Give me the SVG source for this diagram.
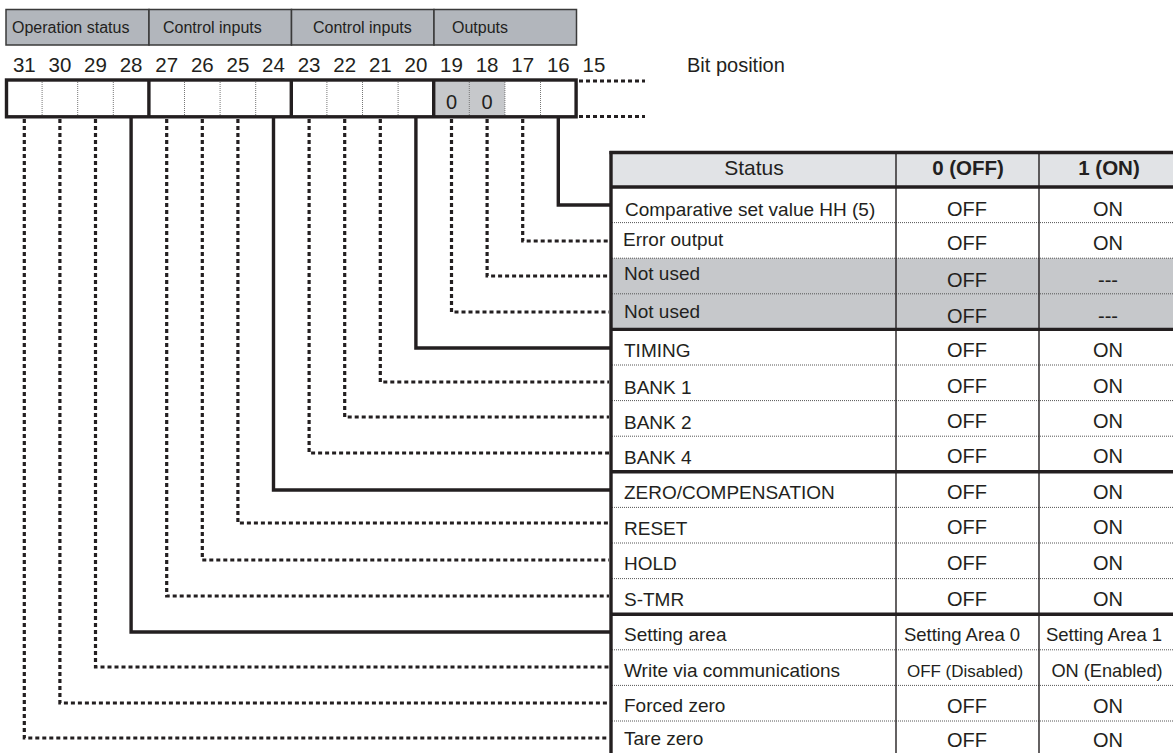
<svg xmlns="http://www.w3.org/2000/svg" width="1173" height="753" viewBox="0 0 1173 753">
<style>
  text { font-family: "Liberation Sans", Arial, sans-serif; fill: #231f20; }
  .hdr { font-size: 16px; }
  .num { font-size: 20.5px; text-anchor: middle; }
  .lbl { font-size: 19px; }
  .val { font-size: 20px; text-anchor: middle; }
  .th { font-size: 21px; text-anchor: middle; }
  .thb { font-size: 20.5px; font-weight: bold; text-anchor: middle; }
  .hbox { fill: #b2b6bc; stroke: #3a3a3a; stroke-width: 1.5; }
  .thick { stroke: #231f20; stroke-width: 3.4; fill: none; }
  .thin { stroke: #231f20; stroke-width: 1.4; fill: none; }
  .grid { stroke: #555; stroke-width: 1; stroke-dasharray: 1 1; fill: none; }
  .solid { stroke: #231f20; stroke-width: 3.4; fill: none; stroke-linejoin: miter; }
  .dot { stroke: #231f20; stroke-width: 3.2; fill: none; stroke-dasharray: 4 3; }
  .grey { fill: #c6c8cb; }
</style>

<g id="field-headers">
  <rect class="hbox" x="6" y="9.5" width="143" height="35.5"/>
  <rect class="hbox" x="149" y="9.5" width="142.5" height="35.5"/>
  <rect class="hbox" x="291.5" y="9.5" width="142.5" height="35.5"/>
  <rect class="hbox" x="434" y="9.5" width="142.5" height="35.5"/>
  <text class="hdr" x="12" y="33">Operation status</text>
  <text class="hdr" x="163" y="33">Control inputs</text>
  <text class="hdr" x="313" y="33">Control inputs</text>
  <text class="hdr" x="452" y="33">Outputs</text>
</g>

<g id="bit-numbers">
  <text class="num" x="24.3" y="72">31</text>
  <text class="num" x="59.9" y="72">30</text>
  <text class="num" x="95.5" y="72">29</text>
  <text class="num" x="131.1" y="72">28</text>
  <text class="num" x="166.7" y="72">27</text>
  <text class="num" x="202.3" y="72">26</text>
  <text class="num" x="237.9" y="72">25</text>
  <text class="num" x="273.5" y="72">24</text>
  <text class="num" x="309.1" y="72">23</text>
  <text class="num" x="344.7" y="72">22</text>
  <text class="num" x="380.3" y="72">21</text>
  <text class="num" x="415.9" y="72">20</text>
  <text class="num" x="451.5" y="72">19</text>
  <text class="num" x="487.1" y="72">18</text>
  <text class="num" x="522.7" y="72">17</text>
  <text class="num" x="558.3" y="72">16</text>
  <text class="num" x="593.9" y="72">15</text>
  <text x="687" y="72" style="font-size:20px">Bit position</text>
</g>

<g id="bit-field">
  <rect class="grey" x="433.7" y="80" width="71.2" height="37"/>
  <g class="grid" style="stroke:#777">
    <line x1="42.1" y1="82" x2="42.1" y2="115"/>
    <line x1="77.7" y1="82" x2="77.7" y2="115"/>
    <line x1="113.3" y1="82" x2="113.3" y2="115"/>
    <line x1="184.5" y1="82" x2="184.5" y2="115"/>
    <line x1="220.1" y1="82" x2="220.1" y2="115"/>
    <line x1="255.7" y1="82" x2="255.7" y2="115"/>
    <line x1="326.9" y1="82" x2="326.9" y2="115"/>
    <line x1="362.5" y1="82" x2="362.5" y2="115"/>
    <line x1="398.1" y1="82" x2="398.1" y2="115"/>
    <line x1="469.3" y1="82" x2="469.3" y2="115"/>
    <line x1="504.9" y1="82" x2="504.9" y2="115"/>
    <line x1="540.5" y1="82" x2="540.5" y2="115"/>
  </g>
  <rect class="thick" x="6.5" y="80" width="569.6" height="36.8"/>
  <line class="thick" x1="148.9" y1="80" x2="148.9" y2="117"/>
  <line class="thick" x1="291.3" y1="80" x2="291.3" y2="117"/>
  <line class="thick" x1="433.7" y1="80" x2="433.7" y2="117"/>
  <text class="num" x="451.5" y="108.5" style="font-size:20px">0</text>
  <text class="num" x="487.1" y="108.5" style="font-size:20px">0</text>
  <line class="dot" x1="579" y1="81" x2="645" y2="81"/>
  <line class="dot" x1="579" y1="116.5" x2="645" y2="116.5"/>
</g>

<g id="status-table">
  <rect x="611" y="152.5" width="562" height="34.5" fill="#e1e3e6"/>
  <rect class="grey" x="611" y="258.2" width="562" height="71.2"/>
  <g class="grid">
    <line x1="612" y1="222.6" x2="1173" y2="222.6"/>
    <line x1="612" y1="258.2" x2="1173" y2="258.2"/>
    <line x1="612" y1="293.8" x2="1173" y2="293.8"/>
    <line x1="612" y1="365" x2="1173" y2="365"/>
    <line x1="612" y1="400.6" x2="1173" y2="400.6"/>
    <line x1="612" y1="436.2" x2="1173" y2="436.2"/>
    <line x1="612" y1="507.4" x2="1173" y2="507.4"/>
    <line x1="612" y1="543" x2="1173" y2="543"/>
    <line x1="612" y1="578.6" x2="1173" y2="578.6"/>
    <line x1="612" y1="649.8" x2="1173" y2="649.8"/>
    <line x1="612" y1="685.4" x2="1173" y2="685.4"/>
    <line x1="612" y1="721" x2="1173" y2="721"/>
  </g>
  <line class="thin" x1="896" y1="152" x2="896" y2="753"/>
  <line class="thin" x1="1039" y1="152" x2="1039" y2="753"/>
  <line class="thick" x1="609.5" y1="152.5" x2="1173" y2="152.5"/>
  <line class="thick" x1="611" y1="187" x2="1173" y2="187"/>
  <line class="thick" x1="611" y1="329.4" x2="1173" y2="329.4"/>
  <line class="thick" x1="611" y1="471.8" x2="1173" y2="471.8"/>
  <line class="thick" x1="611" y1="614.2" x2="1173" y2="614.2"/>
  <line class="thick" x1="611" y1="151" x2="611" y2="753"/>

  <text class="th" x="754" y="174.5">Status</text>
  <text class="thb" x="968" y="175">0 (OFF)</text>
  <text class="thb" x="1109" y="175">1 (ON)</text>
</g>

<g id="row-16"><text class="lbl" x="625" y="216">Comparative set value HH (5)</text><text class="val" x="967" y="216">OFF</text><text class="val" x="1108" y="216">ON</text></g>
<g id="row-17"><text class="lbl" x="623" y="246">Error output</text><text class="val" x="967" y="250">OFF</text><text class="val" x="1108" y="250">ON</text></g>
<g id="row-18"><text class="lbl" x="624" y="280">Not used</text><text class="val" x="967" y="287">OFF</text><text class="val" x="1108" y="287">---</text></g>
<g id="row-19"><text class="lbl" x="624" y="318">Not used</text><text class="val" x="967" y="322.5">OFF</text><text class="val" x="1108" y="322.5">---</text></g>
<g id="row-20"><text class="lbl" x="624" y="357">TIMING</text><text class="val" x="967" y="357">OFF</text><text class="val" x="1108" y="357">ON</text></g>
<g id="row-21"><text class="lbl" x="624" y="393.5">BANK 1</text><text class="val" x="967" y="393">OFF</text><text class="val" x="1108" y="393">ON</text></g>
<g id="row-22"><text class="lbl" x="624" y="428.5">BANK 2</text><text class="val" x="967" y="428">OFF</text><text class="val" x="1108" y="428">ON</text></g>
<g id="row-23"><text class="lbl" x="624" y="463.5">BANK 4</text><text class="val" x="967" y="463">OFF</text><text class="val" x="1108" y="463">ON</text></g>
<g id="row-24"><text class="lbl" x="624" y="499">ZERO/COMPENSATION</text><text class="val" x="967" y="499">OFF</text><text class="val" x="1108" y="499">ON</text></g>
<g id="row-25"><text class="lbl" x="624" y="535">RESET</text><text class="val" x="967" y="534">OFF</text><text class="val" x="1108" y="534">ON</text></g>
<g id="row-26"><text class="lbl" x="624" y="570">HOLD</text><text class="val" x="967" y="570">OFF</text><text class="val" x="1108" y="570">ON</text></g>
<g id="row-27"><text class="lbl" x="624" y="606">S-TMR</text><text class="val" x="967" y="606">OFF</text><text class="val" x="1108" y="606">ON</text></g>
<g id="row-28"><text class="lbl" x="624" y="641">Setting area</text><text class="lbl" x="962" y="641" text-anchor="middle" style="font-size:18.5px">Setting Area 0</text><text class="lbl" x="1104" y="641" text-anchor="middle" style="font-size:18.5px">Setting Area 1</text></g>
<g id="row-29"><text class="lbl" x="624" y="677">Write via communications</text><text class="lbl" x="965" y="677" text-anchor="middle" style="font-size:17px">OFF (Disabled)</text><text class="lbl" x="1107" y="677" text-anchor="middle" style="font-size:18.2px">ON (Enabled)</text></g>
<g id="row-30"><text class="lbl" x="624" y="712">Forced zero</text><text class="val" x="967" y="713">OFF</text><text class="val" x="1108" y="713">ON</text></g>
<g id="row-31"><text class="lbl" x="624" y="745">Tare zero</text><text class="val" x="967" y="747">OFF</text><text class="val" x="1108" y="747">ON</text></g>

<g id="connectors">
  <path class="solid" d="M558.3 117 V205 H611"/>
  <path class="dot" d="M522.7 119 V241 H609"/>
  <path class="dot" d="M487.1 119 V276 H609"/>
  <path class="dot" d="M451.5 119 V312 H609"/>
  <path class="solid" d="M415.9 117 V348 H611"/>
  <path class="dot" d="M380.3 119 V382 H609"/>
  <path class="dot" d="M344.7 119 V417 H609"/>
  <path class="dot" d="M309.1 119 V453 H609"/>
  <path class="solid" d="M273.5 117 V490 H611"/>
  <path class="dot" d="M237.9 119 V523 H609"/>
  <path class="dot" d="M202.3 119 V560 H609"/>
  <path class="dot" d="M166.7 119 V596 H609"/>
  <path class="solid" d="M131.1 117 V632 H611"/>
  <path class="dot" d="M95.5 119 V667 H609"/>
  <path class="dot" d="M59.9 119 V703 H609"/>
  <path class="dot" d="M24.3 119 V738 H609"/>
</g>
</svg>
